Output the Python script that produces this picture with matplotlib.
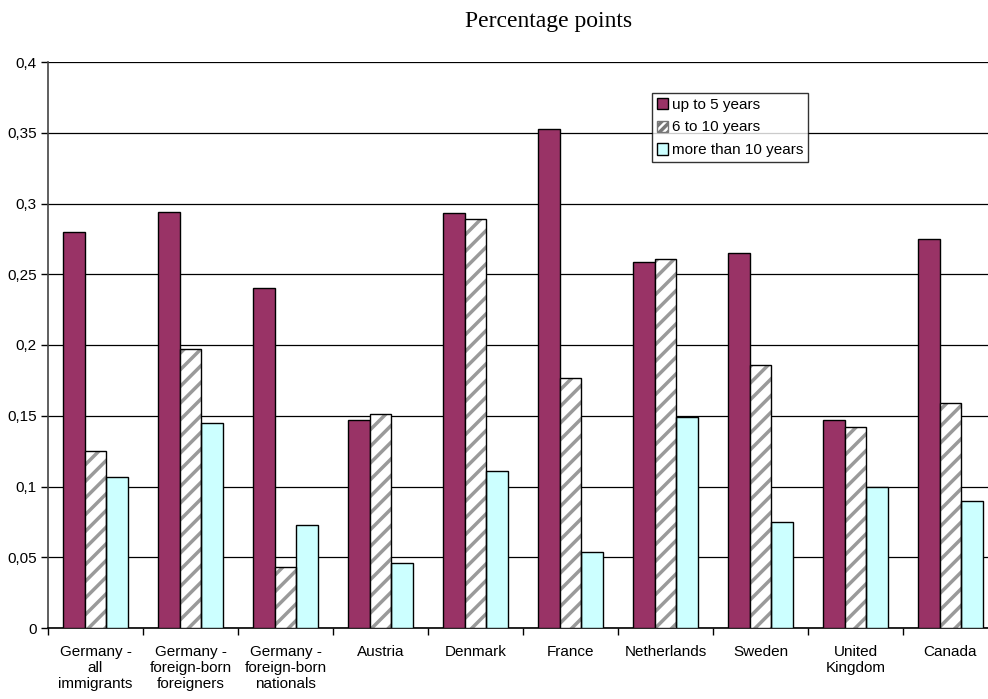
import matplotlib
matplotlib.use("Agg")
import matplotlib.pyplot as plt
import numpy as np
from matplotlib.patches import Patch

categories = ["Germany -\nall\nimmigrants", "Germany -\nforeign-born\nforeigners",
              "Germany -\nforeign-born\nnationals", "Austria", "Denmark", "France",
              "Netherlands", "Sweden", "United\nKingdom", "Canada"]
up_to_5 = [0.280, 0.294, 0.240, 0.147, 0.293, 0.353, 0.259, 0.265, 0.147, 0.275]
six_to_10 = [0.125, 0.197, 0.043, 0.151, 0.289, 0.177, 0.261, 0.186, 0.142, 0.159]
more_10 = [0.107, 0.145, 0.073, 0.046, 0.111, 0.054, 0.149, 0.075, 0.100, 0.090]
series_names = ["up to 5 years", "6 to 10 years", "more than 10 years"]
yticks = [0, 0.05, 0.1, 0.15, 0.2, 0.25, 0.3, 0.35, 0.4]
ytick_labels = ["0", "0,05", "0,1", "0,15", "0,2", "0,25", "0,3", "0,35", "0,4"]

plt.rcParams['font.family'] = ['Liberation Sans', 'DejaVu Sans']
plt.rcParams['hatch.linewidth'] = 2.5
plt.rcParams['hatch.color'] = '#9a9a9a'

fig = plt.figure(figsize=(9.88, 6.99), dpi=100)
ax = fig.add_axes([48/988, 1-628/699, 950/988, 566/699])

x = np.arange(len(categories))
w = 0.225
ax.bar(x - w, up_to_5, w, color='#993366', edgecolor='black', linewidth=1, zorder=3)
ax.bar(x, six_to_10, w, color='white', edgecolor='#9a9a9a', hatch='//', linewidth=0, zorder=3)
ax.bar(x, six_to_10, w, fill=False, edgecolor='black', linewidth=1, zorder=4)
ax.bar(x + w, more_10, w, color='#CCFFFF', edgecolor='black', linewidth=1, zorder=3)

handles = [Patch(facecolor='#993366', edgecolor='black'),
           Patch(facecolor='white', edgecolor='#777777', hatch='////'),
           Patch(facecolor='#CCFFFF', edgecolor='black')]
leg = ax.legend(handles, series_names, loc='upper left', bbox_to_anchor=(604/950, 1-31/566),
                frameon=True, fancybox=False, edgecolor='black', fontsize=11,
                handlelength=0.75, handleheight=0.75, handletextpad=0.25, borderpad=0.3,
                labelspacing=0.58, borderaxespad=0)
leg.get_frame().set_linewidth(1)
leg.set_zorder(6)

ax.set_xlim(-0.5, len(categories) - 0.5)
ax.set_ylim(0, 0.4)
ax.set_yticks(yticks)
ax.set_yticklabels(ytick_labels, fontsize=11)
ax.yaxis.grid(True, color='black', linewidth=0.9, zorder=0)
ax.set_axisbelow(True)

ax.set_xticks(x)
ax.set_xticklabels(categories, fontsize=11, linespacing=1.2)
ax.tick_params(axis='x', which='major', length=0, pad=12)
ax.set_xticks(np.arange(-0.5, len(categories), 1), minor=True)
ax.tick_params(axis='x', which='minor', length=5, direction='out', width=1)
ax.tick_params(axis='y', length=5, direction='out', width=1, pad=3)

for s in ['top', 'right']:
    ax.spines[s].set_visible(False)
ax.spines['left'].set_color('#444444')
ax.spines['left'].set_linewidth(1.2)
ax.spines['bottom'].set_color('black')
ax.spines['bottom'].set_linewidth(1.2)

fig.text(549/988, 1-21/699, "Percentage points", ha='center', va='center',
         fontsize=17, family=['Liberation Serif', 'DejaVu Serif'])

fig.savefig("out.png", dpi=100)
